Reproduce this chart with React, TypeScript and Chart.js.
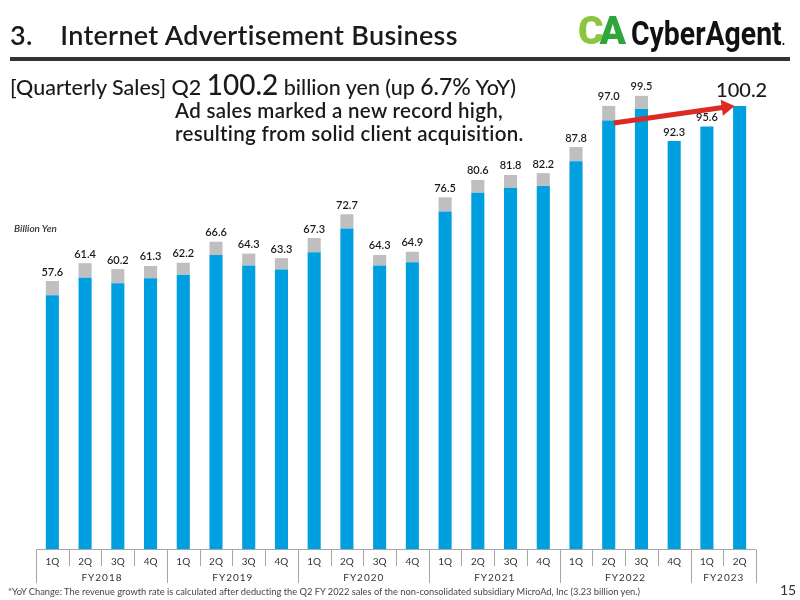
import React, { useEffect, useRef } from "react";
import { Chart, registerables } from "chart.js";

Chart.register(...registerables);

// ---- data ----
const quarters = ["1Q", "2Q", "3Q", "4Q", "1Q", "2Q", "3Q", "4Q", "1Q", "2Q", "3Q", "4Q", "1Q", "2Q", "3Q", "4Q", "1Q", "2Q", "3Q", "4Q", "1Q", "2Q"];
const fiscalYears = ["FY2018", "FY2019", "FY2020", "FY2021", "FY2022", "FY2023"];
const quartersPerYear = [4, 4, 4, 4, 4, 2];
// blue part (ad sales excl. MicroAd) and grey part (MicroAd), billion yen
const adSales = [55.5, 59.3, 58.1, 59.2, 60.0, 64.3, 62.0, 61.1, 64.9, 70.1, 62.0, 62.7, 73.8, 77.9, 79.0, 79.4, 84.8, 93.7, 96.2, 89.2, 92.4, 96.9];
const microAd = [3.1, 3.2, 3.1, 2.7, 2.6, 2.9, 2.6, 2.5, 3.1, 3.1, 2.3, 2.3, 3.1, 2.8, 2.8, 2.8, 3.1, 3.2, 2.9, 0, 0, 0];
const totalLabels = ["57.6", "61.4", "60.2", "61.3", "62.2", "66.6", "64.3", "63.3", "67.3", "72.7", "64.3", "64.9", "76.5", "80.6", "81.8", "82.2", "87.8", "97.0", "99.5", "92.3", "95.6", "100.2"];
const yMax = 103;
const arrowFrom = 17;
const arrowTo = 21;

const BLUE = "#009FE0";
const GREY = "#BFBFBF";
const RED = "#DC2A24";
const FONT = "Lato, 'Open Sans', sans-serif";

const overlayPlugin = {
  id: "overlayPlugin",
  afterDatasetsDraw(chart: any) {
    const { ctx, chartArea, scales } = chart;
    const xs = scales.x;
    const ys = scales.y;
    const n = quarters.length;
    const cw = (chartArea.right - chartArea.left) / n;
    ctx.save();

    // arrow
    const sx = xs.getPixelForValue(arrowFrom) + 5;
    const sy = ys.getPixelForValue(adSales[arrowFrom]) + 2.5;
    const ex = xs.getPixelForValue(arrowTo) - 5;
    const ey = ys.getPixelForValue(adSales[arrowTo]);
    const ang = Math.atan2(ey - sy, ex - sx);
    const headLen = 13;
    const headW = 8;
    const bx = ex - headLen * Math.cos(ang);
    const by = ey - headLen * Math.sin(ang);
    ctx.strokeStyle = RED;
    ctx.fillStyle = RED;
    ctx.lineWidth = 5;
    ctx.lineCap = "butt";
    ctx.beginPath();
    ctx.moveTo(sx, sy);
    ctx.lineTo(bx + Math.cos(ang), by + Math.sin(ang));
    ctx.stroke();
    ctx.beginPath();
    ctx.moveTo(ex, ey);
    ctx.lineTo(bx - headW * Math.sin(ang), by + headW * Math.cos(ang));
    ctx.lineTo(bx + headW * Math.sin(ang), by - headW * Math.cos(ang));
    ctx.closePath();
    ctx.fill();

    // value labels
    ctx.textAlign = "center";
    ctx.textBaseline = "alphabetic";
    ctx.fillStyle = "#1a1a1a";
    for (let i = 0; i < n; i++) {
      const top = ys.getPixelForValue(adSales[i] + microAd[i]);
      const cx = xs.getPixelForValue(i);
      const last = i === n - 1;
      ctx.font = last ? `500 20px ${FONT}` : `600 11px ${FONT}`;
      ctx.fillText(totalLabels[i], cx + (last ? 2 : 0), top - (last ? 9 : 5.5));
    }

    // category table
    const base = chartArea.bottom;
    ctx.strokeStyle = "#a6a6a6";
    ctx.lineWidth = 1;
    ctx.beginPath();
    ctx.moveTo(chartArea.left, base + 0.5);
    ctx.lineTo(chartArea.right, base + 0.5);
    ctx.stroke();
    const yearStarts = new Set<number>();
    let acc = 0;
    yearStarts.add(0);
    quartersPerYear.forEach((q) => {
      acc += q;
      yearStarts.add(acc);
    });
    for (let k = 0; k <= n; k++) {
      const xk = Math.round(chartArea.left + k * cw) + 0.5;
      const len = yearStarts.has(k) ? 34 : 17;
      ctx.beginPath();
      ctx.moveTo(xk, base + 0.5);
      ctx.lineTo(xk, base + len);
      ctx.stroke();
    }
    ctx.fillStyle = "#333333";
    ctx.textBaseline = "middle";
    ctx.font = `400 10px ${FONT}`;
    for (let i = 0; i < n; i++) {
      ctx.fillText(quarters[i], xs.getPixelForValue(i), base + 12.5);
    }
    let start = 0;
    (ctx as any).letterSpacing = "1px";
    fiscalYears.forEach((fy, j) => {
      const q = quartersPerYear[j];
      const cx = chartArea.left + (start + q / 2) * cw;
      ctx.fillText(fy, cx + 0.5, base + 28.5);
      start += q;
    });
    (ctx as any).letterSpacing = "0px";
    ctx.restore();
  },
};

export default function App() {
  const canvasRef = useRef<HTMLCanvasElement | null>(null);

  useEffect(() => {
    if (!canvasRef.current) return;
    const chart = new Chart(canvasRef.current, {
      type: "bar",
      data: {
        labels: quarters,
        datasets: [
          { label: "Ad sales", data: adSales, backgroundColor: BLUE, borderWidth: 0 },
          { label: "MicroAd", data: microAd, backgroundColor: GREY, borderWidth: 0 },
        ],
      },
      options: {
        animation: false,
        responsive: false,
        devicePixelRatio: 1,
        layout: { padding: { left: 36, right: 44, top: 78, bottom: 51 } },
        datasets: { bar: { categoryPercentage: 1, barPercentage: 0.4 } },
        plugins: { legend: { display: false }, tooltip: { enabled: false } },
        scales: {
          x: { display: false, stacked: true, offset: true },
          y: { display: false, stacked: true, min: 0, max: yMax },
        },
      } as any,
      plugins: [overlayPlugin],
    });
    return () => chart.destroy();
  }, []);

  const abs = (s: React.CSSProperties): React.CSSProperties => ({
    position: "absolute",
    whiteSpace: "nowrap",
    margin: 0,
    fontVariantLigatures: "none",
    ...s,
  });

  return (
    <div style={{ position: "fixed", left: 0, top: 0, width: 800, height: 600, background: "#fff", fontFamily: FONT, color: "#1a1a1a", overflow: "hidden" }}>
      <canvas ref={canvasRef} width={800} height={600} style={{ position: "absolute", left: 0, top: 0, width: 800, height: 600 }} />
      <div style={abs({ left: 10, top: 18, fontSize: 27, fontWeight: 600, lineHeight: "normal", letterSpacing: 0.3 })}>
        3.{"\u2002\u2002"}Internet Advertisement Business
      </div>
      {/* logo */}
      <div style={abs({ left: 578, top: 12, fontFamily: "Roboto, sans-serif", fontSize: 39, fontWeight: 900, lineHeight: 1, letterSpacing: -4 })}>
        <span style={{ color: "#8CC63F" }}>C</span>
        <span style={{ color: "#2FA53A" }}>A</span>
      </div>
      <div style={abs({ left: 631, top: 17, fontFamily: "Roboto, sans-serif", fontSize: 33, fontWeight: 700, lineHeight: 1, transform: "scaleX(0.86)", transformOrigin: "left top", color: "#111" })}>
        CyberAgent<span style={{ fontSize: 14 }}>.</span>
      </div>
      <div style={abs({ left: 10, top: 57, width: 780, height: 4, background: "#333" })} />
      <div style={abs({ left: 10, top: 67, fontSize: 21.5, fontWeight: 500, lineHeight: "normal" })}>
        [Quarterly Sales] Q2 <span style={{ fontSize: 28 }}>100.2</span> billion yen (up <span style={{ fontSize: 23 }}>6.7%</span> YoY)
      </div>
      <div style={abs({ left: 175, top: 99, fontSize: 20.5, fontWeight: 600, lineHeight: "23px", letterSpacing: 0.3 })}>
        Ad sales marked a new record high,
        <br />
        resulting from solid client acquisition.
      </div>
      <div style={abs({ left: 14, top: 222, fontSize: 10, fontWeight: 600, fontStyle: "italic", color: "#333", lineHeight: "normal" })}>Billion Yen</div>
      <div style={abs({ left: 8, top: 586, fontSize: 9.3, fontWeight: 400, color: "#444", lineHeight: "normal" })}>
        *YoY Change: The revenue growth rate is calculated after deducting the Q2 FY 2022 sales of the non-consolidated subsidiary MicroAd, Inc (3.23 billion yen.)
      </div>
      <div style={abs({ left: 780, top: 581, fontSize: 14, fontWeight: 400, color: "#333", lineHeight: "normal" })}>15</div>
    </div>
  );
}
